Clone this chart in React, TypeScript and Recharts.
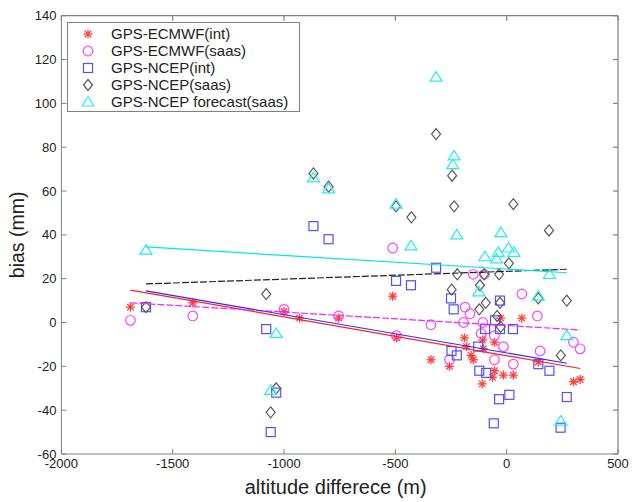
import React from "react";
import { ScatterChart, Scatter, XAxis, YAxis, Legend, ReferenceLine } from "recharts";

type Pt = { x: number; y: number };

// GPS - ECMWF (int) : red stars
const ecmwfInt: Pt[] = [
  { x: -1690, y: 7 }, { x: -1410, y: 9 }, { x: -1000, y: 5 }, { x: -930, y: 2 },
  { x: -755, y: 2 }, { x: -512, y: 12 }, { x: -495, y: -7 }, { x: -340, y: -17 },
  { x: -257, y: -20 }, { x: -190, y: -7 }, { x: -180, y: -11 }, { x: -160, y: -15 },
  { x: -150, y: -17 }, { x: -107, y: -8 }, { x: -105, y: -12 }, { x: -110, y: -28 },
  { x: -55, y: -9 }, { x: -55, y: -22 }, { x: -64, y: -25 }, { x: -27, y: 2 },
  { x: -15, y: -24 }, { x: 30, y: -24 }, { x: 68, y: 2 }, { x: 142, y: -18 },
  { x: 300, y: -27 }, { x: 330, y: -26 },
];

// GPS - ECMWF (saas) : magenta circles
const ecmwfSaas: Pt[] = [
  { x: -1690, y: 1 }, { x: -1410, y: 3 }, { x: -1000, y: 6 }, { x: -755, y: 3 },
  { x: -512, y: 34 }, { x: -495, y: -6 }, { x: -340, y: -1 }, { x: -257, y: -17 },
  { x: -187, y: 7 }, { x: -194, y: 0 }, { x: -165, y: 4 }, { x: -150, y: 22 },
  { x: -100, y: 22 }, { x: -115, y: -5 }, { x: -107, y: 0 }, { x: -55, y: -6 },
  { x: -55, y: -17 }, { x: -15, y: -11 }, { x: 30, y: -19 }, { x: 68, y: 13 },
  { x: 138, y: 3 }, { x: 150, y: -13 }, { x: 300, y: -9 }, { x: 330, y: -12 },
];

// GPS - NCEP (int) : blue squares
const ncepInt: Pt[] = [
  { x: -1620, y: 7 }, { x: -1080, y: -3 }, { x: -1035, y: -32 }, { x: -1060, y: -50 },
  { x: -868, y: 44 }, { x: -800, y: 38 }, { x: -497, y: 19 }, { x: -430, y: 17 },
  { x: -317, y: 25 }, { x: -250, y: 11 }, { x: -238, y: 6 }, { x: -248, y: -13 },
  { x: -224, y: -15 }, { x: -128, y: -11 }, { x: -123, y: -22 }, { x: -92, y: -23 },
  { x: -97, y: -3 }, { x: -52, y: 1 }, { x: -30, y: 10 }, { x: -30, y: -3 },
  { x: 28, y: -3 }, { x: -34, y: -35 }, { x: 12, y: -33 }, { x: -58, y: -46 },
  { x: 142, y: -19 }, { x: 192, y: -22 }, { x: 270, y: -34 }, { x: 242, y: -48 },
];

// GPS - NCEP (saas) : grey diamonds
const ncepSaas: Pt[] = [
  { x: -1620, y: 7 }, { x: -1080, y: 13 }, { x: -1035, y: -30 }, { x: -1060, y: -41 },
  { x: -868, y: 68 }, { x: -800, y: 62 }, { x: -497, y: 53 }, { x: -428, y: 48 },
  { x: -317, y: 86 }, { x: -245, y: 67 }, { x: -236, y: 53 }, { x: -222, y: 22 },
  { x: -247, y: 15 }, { x: -120, y: 17 }, { x: -123, y: 6 }, { x: -101, y: 22 },
  { x: -94, y: 9 }, { x: -43, y: 3 }, { x: -34, y: 22 }, { x: -30, y: 9 },
  { x: -27, y: -2 }, { x: 10, y: 27 }, { x: 30, y: 54 }, { x: 142, y: 11 },
  { x: 190, y: 42 }, { x: 270, y: 10 }, { x: 243, y: -15 },
];

// GPS - NCEP forecast (saas) : cyan triangles
const ncepForecast: Pt[] = [
  { x: -1620, y: 33 }, { x: -1035, y: -5 }, { x: -1060, y: -31 }, { x: -868, y: 66 },
  { x: -800, y: 61 }, { x: -497, y: 54 }, { x: -430, y: 35 }, { x: -317, y: 112 },
  { x: -236, y: 76 }, { x: -242, y: 72 }, { x: -224, y: 40 }, { x: -26, y: 41 },
  { x: -98, y: 30 }, { x: -45, y: 29 }, { x: -38, y: 32 }, { x: 8, y: 34 },
  { x: 32, y: 32 }, { x: 192, y: 22 }, { x: -125, y: 14 }, { x: 142, y: 12 },
  { x: 270, y: -6 }, { x: 243, y: -45 },
];

// fitted trend lines (end points)
const fitEcmwfInt: Pt[] = [{ x: -1690, y: 14.8 }, { x: 330, y: -21 }];
const fitEcmwfSaas: Pt[] = [{ x: -1690, y: 9 }, { x: 330, y: -3.4 }];
const fitNcepInt: Pt[] = [{ x: -1620, y: 14.4 }, { x: 270, y: -18.6 }];
const fitNcepSaas: Pt[] = [{ x: -1620, y: 17.6 }, { x: 270, y: 24.3 }];
const fitForecast: Pt[] = [{ x: -1620, y: 34.5 }, { x: 270, y: 22.7 }];

const xMin = -2000;
const xMax = 500;
const yMin = -60;
const yMax = 140;
const xTicks = [-2000, -1500, -1000, -500, 0, 500];
const yTicks = [-60, -40, -20, 0, 20, 40, 60, 80, 100, 120, 140];

const seriesNames = [
  "GPS-ECMWF(int)",
  "GPS-ECMWF(saas)",
  "GPS-NCEP(int)",
  "GPS-NCEP(saas)",
  "GPS-NCEP forecast(saas)",
];

// MATLAB-style closed box: inward ticks on the top and right edges
const topTicks: Pt[] = xTicks.map((x) => ({ x, y: yMax }));
const rightTicks: Pt[] = yTicks.map((y) => ({ x: xMax, y }));

const FONT = "'Liberation Sans', Arial, Helvetica, sans-serif";
const AXIS = "#808080";
const TEXT = "#222";

const C_RED = "#ff3b3b";
const C_MAG = "#ff44ff";
const C_BLUE = "#5050ff";
const C_GREY = "#5a5a5a";
const C_CYAN = "#22eeee";

// marker shapes (MATLAB-like)
function Star({ cx, cy, color = C_RED }: any) {
  const r = 4.5;
  const d = r * 0.72;
  return (
    <g stroke={color} strokeWidth={1.3}>
      <line x1={cx - r} y1={cy} x2={cx + r} y2={cy} />
      <line x1={cx} y1={cy - r} x2={cx} y2={cy + r} />
      <line x1={cx - d} y1={cy - d} x2={cx + d} y2={cy + d} />
      <line x1={cx - d} y1={cy + d} x2={cx + d} y2={cy - d} />
    </g>
  );
}
function Ring({ cx, cy, color = C_MAG }: any) {
  return <circle cx={cx} cy={cy} r={4.8} fill="none" stroke={color} strokeWidth={1.2} />;
}
function Box({ cx, cy, color = C_BLUE }: any) {
  return <rect x={cx - 4.5} y={cy - 4.5} width={9} height={9} fill="none" stroke={color} strokeWidth={1.2} />;
}
function Diamond({ cx, cy, color = C_GREY }: any) {
  return (
    <polygon
      points={`${cx},${cy - 5.5} ${cx + 4.5},${cy} ${cx},${cy + 5.5} ${cx - 4.5},${cy}`}
      fill="none"
      stroke={color}
      strokeWidth={1.2}
    />
  );
}
function Tri({ cx, cy, color = C_CYAN }: any) {
  return (
    <polygon
      points={`${cx},${cy - 5.5} ${cx + 6},${cy + 4} ${cx - 6},${cy + 4}`}
      fill="none"
      stroke={color}
      strokeWidth={1.2}
    />
  );
}
const markers = [Star, Ring, Box, Diamond, Tri];
const noDot = () => <g />;
const DownTick = ({ cx, cy }: any) => <line x1={cx} y1={cy} x2={cx} y2={cy + 5} stroke={AXIS} strokeWidth={1.2} />;
const LeftwardTick = ({ cx, cy }: any) => <line x1={cx} y1={cy} x2={cx - 5} y2={cy} stroke={AXIS} strokeWidth={1.2} />;

// inward ticks with labels on the bottom / left axes
const BottomTick = ({ x, y, payload }: any) => (
  <g>
    <line x1={x} y1={y} x2={x} y2={y - 5} stroke={AXIS} />
    <text x={x} y={y + 14} textAnchor="middle" fontSize={13} fontFamily={FONT} fill={TEXT}>
      {payload.value}
    </text>
  </g>
);
const LeftTick = ({ x, y, payload }: any) => (
  <g>
    <line x1={x} y1={y} x2={x + 5} y2={y} stroke={AXIS} />
    <text x={x - 5} y={y + 4.6} textAnchor="end" fontSize={13} fontFamily={FONT} fill={TEXT}>
      {payload.value}
    </text>
  </g>
);

const LegendBox = () => (
  <div
    style={{
      width: 233,
      height: 90,
      boxSizing: "border-box",
      border: `1px solid ${AXIS}`,
      background: "#fff",
      paddingTop: 2,
      fontFamily: FONT,
      fontSize: 15,
      color: TEXT,
    }}
  >
    {seriesNames.map((name, i) => {
      const M = markers[i];
      return (
        <div key={name} style={{ height: 17, display: "flex", alignItems: "center", paddingLeft: 13 }}>
          <svg width={14} height={14}>
            <M cx={7} cy={7} />
          </svg>
          <span style={{ marginLeft: 16, whiteSpace: "nowrap" }}>{name}</span>
        </div>
      );
    })}
  </div>
);

export default function App() {
  return (
    <div style={{ position: "absolute", left: 0, top: 0, width: 632, height: 502, background: "#fff" }}>
      <ScatterChart width={632} height={502} margin={{ top: 15.7, right: 14, bottom: 0, left: 0 }}>
        <XAxis
          type="number"
          dataKey="x"
          domain={[xMin, xMax]}
          ticks={xTicks}
          interval={0}
          height={48}
          stroke={AXIS}
          tickLine={false}
          tickSize={0}
          tickMargin={0}
          tick={<BottomTick />}
          label={{
            value: "altitude differece (m)",
            position: "insideBottom",
            offset: 8,
            dx: -4,
            fontSize: 20,
            fontFamily: FONT,
            fill: TEXT,
          }}
        />
        <YAxis
          type="number"
          dataKey="y"
          domain={[yMin, yMax]}
          ticks={yTicks}
          interval={0}
          width={61.4}
          stroke={AXIS}
          tickLine={false}
          tickSize={0}
          tickMargin={0}
          tick={<LeftTick />}
          label={{
            value: "bias (mm)",
            angle: -90,
            position: "center",
            dx: -14,
            fontSize: 19.5,
            fontFamily: FONT,
            fill: TEXT,
          }}
        />
        <Legend
          layout="vertical"
          align="center"
          verticalAlign="middle"
          content={<LegendBox />}
          wrapperStyle={{ left: 67, top: 22, width: 233 }}
        />

        <Scatter name={seriesNames[0]} data={ecmwfInt} shape={<Star />} isAnimationActive={false} />
        <Scatter name={seriesNames[1]} data={ecmwfSaas} shape={<Ring />} isAnimationActive={false} />
        <Scatter name={seriesNames[2]} data={ncepInt} shape={<Box />} isAnimationActive={false} />
        <Scatter name={seriesNames[3]} data={ncepSaas} shape={<Diamond />} isAnimationActive={false} />
        <Scatter name={seriesNames[4]} data={ncepForecast} shape={<Tri />} isAnimationActive={false} />

        <Scatter data={fitEcmwfInt} line={{ stroke: "#ff2020", strokeWidth: 1.2 }} shape={noDot} legendType="none" isAnimationActive={false} />
        <Scatter data={fitEcmwfSaas} line={{ stroke: "#ff22ff", strokeWidth: 1.2, strokeDasharray: "7 2" }} shape={noDot} legendType="none" isAnimationActive={false} />
        <Scatter data={fitNcepInt} line={{ stroke: "#2a2aff", strokeWidth: 1.2 }} shape={noDot} legendType="none" isAnimationActive={false} />
        <Scatter data={fitNcepSaas} line={{ stroke: "#222", strokeWidth: 1.2, strokeDasharray: "7 2" }} shape={noDot} legendType="none" isAnimationActive={false} />
        <Scatter data={fitForecast} line={{ stroke: "#00e8e8", strokeWidth: 1.2 }} shape={noDot} legendType="none" isAnimationActive={false} />

        {/* top and right edges of the box, with inward ticks */}
        <ReferenceLine y={yMax} stroke={AXIS} strokeWidth={1.2} ifOverflow="visible" />
        <ReferenceLine x={xMax} stroke={AXIS} strokeWidth={1.2} ifOverflow="visible" />
        <Scatter data={topTicks} shape={<DownTick />} legendType="none" isAnimationActive={false} />
        <Scatter data={rightTicks} shape={<LeftwardTick />} legendType="none" isAnimationActive={false} />
      </ScatterChart>
    </div>
  );
}
